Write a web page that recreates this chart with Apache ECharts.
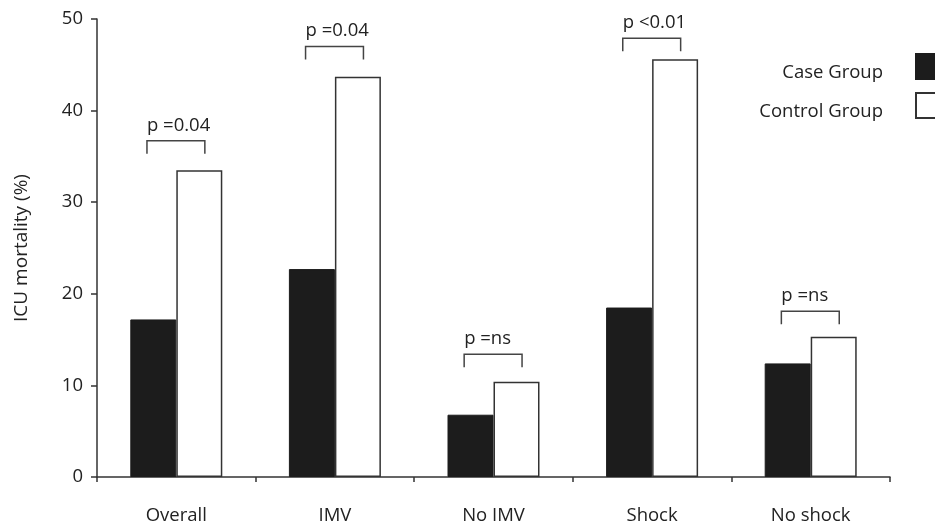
<!DOCTYPE html>
<html>
<head>
<meta charset="utf-8">
<script src="https://cdn.jsdelivr.net/npm/echarts@6/dist/echarts.min.js"></script>
<style>
  html, body { margin: 0; padding: 0; background: #fff; }
  #main { width: 935px; height: 528px; }
</style>
</head>
<body>
<div id="main"></div>
<script>
const categories = ['Overall', 'IMV', 'No IMV', 'Shock', 'No shock']
const caseGroup = [17.2, 22.7, 6.8, 18.5, 12.4]
const controlGroup = [33.5, 43.7, 10.4, 45.6, 15.3]
const bracketLevels = [36.7, 47.0, 13.4, 47.9, 18.1]
const bracketTexts = ['p =0.04', 'p =0.04', 'p =ns', 'p <0.01', 'p =ns']
const yTicks = [0, 10, 20, 30, 40, 50]

const font = '"Open Sans", "Noto Sans", sans-serif'
const ink = '#333'

const chart = echarts.init(document.getElementById('main'))

const legendBase = {
  orient: 'vertical',
  align: 'right',
  right: -21,
  icon: 'rect',
  itemWidth: 34,
  itemHeight: 25,
  selectedMode: false,
  formatter: (name) => '{t|' + name + '}',
  textStyle: {
    fontFamily: font,
    fontSize: 18.5,
    color: '#222',
    padding: [0, 28, 0, 0],
    rich: {
      t: {
        fontFamily: font,
        fontSize: 18.5,
        color: '#222',
        padding: [13, 0, 0, 0],
      },
    },
  },
}

const option = {
  backgroundColor: '#fff',
  animation: false,
  grid: {
    left: 97,
    right: 45,
    top: 19,
    bottom: 51,
  },
  legend: [
    Object.assign({}, legendBase, { top: 48, data: ['Case Group'] }),
    Object.assign({}, legendBase, { top: 87, data: ['Control Group'] }),
  ],
  xAxis: {
    type: 'category',
    data: categories,
    axisLine: { lineStyle: { color: ink, width: 1.5 } },
    axisTick: { show: true, length: 5, lineStyle: { color: ink, width: 1.5 } },
    axisLabel: {
      color: '#222',
      fontFamily: font,
      fontSize: 18.5,
      margin: 29,
    },
  },
  yAxis: {
    type: 'value',
    min: 0,
    max: 50,
    interval: 10,
    name: 'ICU mortality (%)',
    nameLocation: 'middle',
    nameGap: 66,
    nameTextStyle: { color: '#222', fontFamily: font, fontSize: 19 },
    axisLine: { show: true, lineStyle: { color: ink, width: 1.5 } },
    axisTick: { show: true, length: 6, lineStyle: { color: ink, width: 1.5 } },
    axisLabel: {
      color: '#222',
      fontFamily: font,
      fontSize: 18.5,
      margin: 14,
      formatter: (v) => (yTicks.includes(v) ? String(v) : ''),
    },
    splitLine: { show: false },
  },
  series: [
    {
      name: 'Case Group',
      type: 'bar',
      data: caseGroup,
      barWidth: 46,
      barGap: '0%',
      itemStyle: { color: '#1c1c1c', borderColor: '#1c1c1c', borderWidth: 1 },
    },
    {
      name: 'Control Group',
      type: 'bar',
      data: controlGroup,
      barWidth: 46,
      barGap: '0%',
      itemStyle: { color: '#fff', borderColor: ink, borderWidth: 1.5 },
    },
    {
      type: 'custom',
      silent: true,
      data: bracketLevels.map((v, i) => [i, v]),
      renderItem(params, api) {
        const i = api.value(0)
        const c = api.coord([i, api.value(1)])
        const w = api.size([1, 0])[0]
        const x0 = c[0] - w * 0.185
        const x1 = c[0] + w * 0.18
        const y = c[1]
        return {
          type: 'group',
          children: [
            {
              type: 'polyline',
              shape: { points: [[x0, y + 13], [x0, y], [x1, y], [x1, y + 13]] },
              style: { stroke: '#444', lineWidth: 1.5, fill: null },
            },
            {
              type: 'text',
              x: x0,
              y: y - 6,
              style: {
                text: bracketTexts[i],
                fontFamily: font,
                fontSize: 18.5,
                fill: '#222',
                align: 'left',
                verticalAlign: 'bottom',
              },
            },
          ],
        }
      },
    },
  ],
}

chart.setOption(option)
</script>
</body>
</html>
